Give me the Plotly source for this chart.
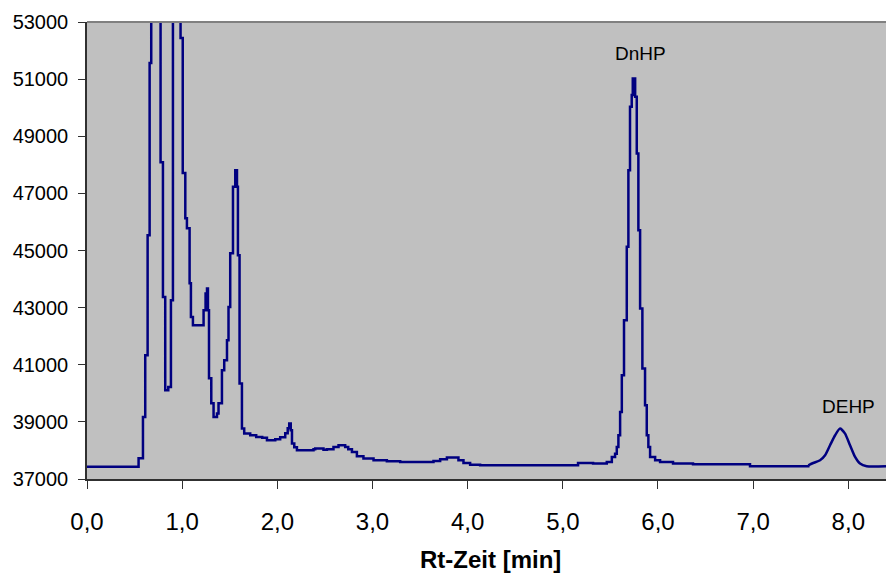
import plotly.graph_objects as go

# Retention time [min] (start of each step) and detector signal
rt = [0.000, 0.542, 0.588, 0.612, 0.637, 0.658, 0.675, 0.773, 0.798, 0.822,
      0.854, 0.882, 0.903, 0.983, 1.006, 1.033, 1.050, 1.078, 1.092, 1.113,
      1.225, 1.246, 1.261, 1.271, 1.282, 1.306, 1.330, 1.366, 1.382, 1.418,
      1.442, 1.471, 1.487, 1.505, 1.534, 1.558, 1.576, 1.586, 1.603, 1.628,
      1.652, 1.715, 1.778, 1.841, 1.891, 1.978, 2.030, 2.083, 2.109, 2.125,
      2.141, 2.154, 2.178, 2.206, 2.380, 2.398, 2.485, 2.521, 2.590, 2.643,
      2.713, 2.745, 2.784, 2.836, 2.905, 3.011, 3.151, 3.291, 3.641, 3.711,
      3.782, 3.851, 3.903, 3.956, 4.026, 4.131, 5.160, 5.318, 5.462, 5.515,
      5.549, 5.567, 5.584, 5.602, 5.620, 5.643, 5.672, 5.689, 5.706, 5.724,
      5.735, 5.760, 5.777, 5.794, 5.812, 5.836, 5.864, 5.882, 5.899, 5.917,
      5.970, 6.022, 6.158, 6.368, 6.967, 7.579, 7.631, 7.703, 7.756, 7.808,
      7.861, 7.913, 7.966, 8.018, 8.071, 8.123, 8.193, 8.396]
signal = [37431, 37725, 39172, 41333, 45537, 51562, 56000, 48094, 43375, 40107,
          40223, 43260, 56000, 52438, 47709, 46132, 45782, 43855, 42675, 42384,
          42910, 43495, 43670, 42910, 40527, 39652, 39172, 39291, 39652, 40808,
          41158, 41859, 43025, 44906, 47229, 47814, 47229, 44836, 40342, 38766,
          38590, 38531, 38471, 38443, 38356, 38391, 38461, 38601, 38776, 38941,
          38706, 38240, 38110, 38005, 38040, 38065, 38023, 38040, 38121, 38181,
          38121, 38040, 37946, 37795, 37715, 37655, 37620, 37596, 37631, 37690,
          37750, 37750, 37655, 37560, 37497, 37480, 37560, 37539, 37596, 37771,
          37880, 38121, 38531, 39347, 40633, 42559, 45127, 47814, 50031, 50441,
          51026, 50381, 48399, 45712, 42969, 40867, 39582, 38531, 38121, 37771,
          37655, 37596, 37539, 37515, 37445, 37480, 37560, 37655, 37830, 38181,
          38531, 38766, 38590, 38181, 37771, 37539, 37445, 37445]

y_ticks = [37000, 39000, 41000, 43000, 45000, 47000, 49000, 51000, 53000]
x_ticks = [0, 1, 2, 3, 4, 5, 6, 7, 8]

peak_labels = ["DnHP", "DEHP"]
peak_rt = [5.812, 8.00]
peak_y = [51912, 39554]

FONT = "Arial, Liberation Sans, sans-serif"
LINE = "#000080"

# stepped detector trace up to the DEHP region, smooth trace for DEHP
split = rt.index(7.579)

fig = go.Figure()
fig.add_trace(go.Scatter(
    x=rt[:split + 1], y=signal[:split + 1], mode="lines",
    line=dict(color=LINE, width=2.5, shape="hv"),
    showlegend=False, hoverinfo="skip",
))
fig.add_trace(go.Scatter(
    x=rt[split:], y=signal[split:], mode="lines",
    line=dict(color=LINE, width=2.5, shape="spline", smoothing=0.6),
    showlegend=False, hoverinfo="skip",
))

for lab, px, py in zip(peak_labels, peak_rt, peak_y):
    fig.add_annotation(x=px, y=py, text=lab, showarrow=False,
                       xanchor="center", yanchor="middle",
                       font=dict(family=FONT, size=19, color="black"))

fig.add_annotation(x=0.505, y=-0.176, xref="paper", yref="paper",
                   text="<b>Rt-Zeit [min]</b>", showarrow=False,
                   xanchor="center", yanchor="middle",
                   font=dict(family=FONT, size=24, color="black"))

fig.add_shape(type="line", xref="paper", yref="paper", x0=0, x1=1, y0=1, y1=1,
              line=dict(color="#808080", width=2))

fig.update_layout(
    width=886, height=576,
    margin=dict(l=87, r=0, t=22, b=97),
    paper_bgcolor="white", plot_bgcolor="#C0C0C0",
    separators=",.",
    font=dict(family=FONT, color="black"),
    xaxis=dict(range=[0, 8.396], tickvals=x_ticks, tickformat=".1f",
               showgrid=False, zeroline=False, showline=True,
               linecolor="#303030", linewidth=1.5,
               ticks="outside", ticklen=8, tickcolor="#303030", tickwidth=1,
               tickfont=dict(family=FONT, size=24, color="black"),
               ticklabelstandoff=12),
    yaxis=dict(range=[37000, 53000], tickvals=y_ticks, tickformat="d",
               showgrid=False, zeroline=False, showline=True,
               linecolor="#303030", linewidth=1.5,
               ticks="outside", ticklen=7, tickcolor="#303030", tickwidth=1,
               tickfont=dict(family=FONT, size=20, color="black"),
               ticklabelstandoff=6),
)

fig.write_html("out.html")
